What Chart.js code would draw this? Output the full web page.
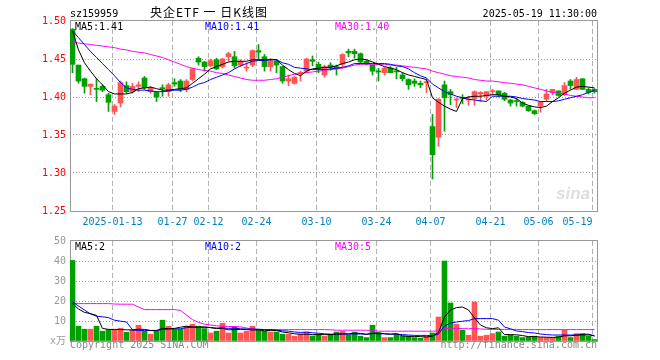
<!DOCTYPE html>
<html><head><meta charset="utf-8">
<script src="https://cdn.jsdelivr.net/npm/chart.js@4"></script>
<style>
html,body{margin:0;padding:0;background:#fff;}
#wrap{position:relative;width:660px;height:360px;overflow:hidden;}
canvas{position:absolute;left:0;top:0;}
</style></head><body>
<div id="wrap"><canvas id="c1" width="660" height="360"></canvas><canvas id="c2" width="660" height="360"></canvas></div>
<script>
const dates = [
'2025-01-02','2025-01-03','2025-01-06','2025-01-07','2025-01-08','2025-01-09','2025-01-10','2025-01-13','2025-01-14','2025-01-15',
'2025-01-16','2025-01-17','2025-01-20','2025-01-21','2025-01-22','2025-01-23','2025-01-24','2025-01-27','2025-02-05','2025-02-06',
'2025-02-07','2025-02-10','2025-02-11','2025-02-12','2025-02-13','2025-02-14','2025-02-17','2025-02-18','2025-02-19','2025-02-20',
'2025-02-21','2025-02-24','2025-02-25','2025-02-26','2025-02-27','2025-02-28','2025-03-03','2025-03-04','2025-03-05','2025-03-06',
'2025-03-07','2025-03-10','2025-03-11','2025-03-12','2025-03-13','2025-03-14','2025-03-17','2025-03-18','2025-03-19','2025-03-20',
'2025-03-21','2025-03-24','2025-03-25','2025-03-26','2025-03-27','2025-03-28','2025-03-31','2025-04-01','2025-04-02','2025-04-03',
'2025-04-07','2025-04-08','2025-04-09','2025-04-10','2025-04-11','2025-04-14','2025-04-15','2025-04-16','2025-04-17','2025-04-18',
'2025-04-21','2025-04-22','2025-04-23','2025-04-24','2025-04-25','2025-04-28','2025-04-29','2025-04-30','2025-05-06','2025-05-07',
'2025-05-08','2025-05-09','2025-05-12','2025-05-13','2025-05-14','2025-05-15','2025-05-16','2025-05-19'];

const open = [1.489,1.442,1.424,1.414,1.411,1.414,1.403,1.381,1.392,1.415,
1.407,1.414,1.425,1.407,1.406,1.412,1.407,1.419,1.421,1.410,
1.423,1.451,1.446,1.441,1.449,1.440,1.453,1.453,1.442,1.438,
1.442,1.461,1.453,1.440,1.447,1.440,1.421,1.418,1.431,1.434,
1.449,1.443,1.429,1.442,1.440,1.443,1.460,1.460,1.457,1.447,
1.442,1.434,1.432,1.438,1.434,1.429,1.423,1.421,1.418,1.419,
1.361,1.347,1.416,1.407,1.396,1.399,1.396,1.398,1.404,1.401,
1.407,1.408,1.405,1.396,1.395,1.393,1.388,1.382,1.388,1.397,
1.406,1.408,1.403,1.421,1.410,1.424,1.410,1.410];
const high = [1.490,1.442,1.425,1.417,1.424,1.416,1.405,1.390,1.421,1.420,
1.418,1.420,1.427,1.414,1.407,1.416,1.418,1.424,1.423,1.423,
1.438,1.453,1.447,1.450,1.451,1.451,1.459,1.460,1.449,1.445,
1.462,1.469,1.456,1.451,1.449,1.440,1.429,1.427,1.434,1.451,
1.454,1.446,1.442,1.445,1.442,1.457,1.463,1.463,1.458,1.449,
1.442,1.438,1.439,1.440,1.439,1.432,1.424,1.424,1.421,1.423,
1.377,1.398,1.421,1.410,1.399,1.403,1.401,1.408,1.407,1.407,
1.410,1.408,1.406,1.397,1.398,1.394,1.388,1.383,1.394,1.410,
1.410,1.408,1.419,1.423,1.426,1.424,1.412,1.411];
const low = [1.432,1.418,1.405,1.403,1.394,1.407,1.381,1.377,1.387,1.405,
1.405,1.407,1.410,1.405,1.394,1.401,1.401,1.414,1.407,1.407,
1.421,1.442,1.434,1.440,1.436,1.438,1.447,1.438,1.440,1.434,
1.440,1.449,1.434,1.434,1.432,1.418,1.415,1.417,1.421,1.432,
1.441,1.432,1.426,1.435,1.429,1.440,1.453,1.451,1.444,1.442,
1.429,1.421,1.429,1.432,1.424,1.421,1.410,1.414,1.412,1.406,
1.292,1.335,1.355,1.390,1.386,1.391,1.389,1.389,1.394,1.396,
1.403,1.400,1.395,1.388,1.388,1.387,1.381,1.377,1.380,1.394,
1.403,1.401,1.402,1.410,1.410,1.410,1.404,1.405];
const close = [1.443,1.421,1.414,1.417,1.410,1.409,1.393,1.388,1.419,1.407,
1.414,1.416,1.412,1.412,1.400,1.411,1.416,1.417,1.410,1.421,
1.437,1.446,1.440,1.448,1.437,1.450,1.457,1.441,1.447,1.439,
1.461,1.459,1.440,1.447,1.442,1.421,1.424,1.426,1.432,1.450,
1.447,1.437,1.440,1.439,1.437,1.456,1.458,1.457,1.446,1.445,
1.434,1.433,1.438,1.432,1.433,1.424,1.416,1.418,1.416,1.419,
1.324,1.397,1.399,1.403,1.397,1.398,1.397,1.407,1.406,1.407,
1.408,1.403,1.397,1.392,1.394,1.388,1.382,1.378,1.393,1.404,
1.410,1.402,1.415,1.415,1.423,1.410,1.406,1.407];
const ma5 = [1.487,1.462,1.445,1.434,1.424,1.416,1.407,1.404,1.404,1.404,
1.406,1.411,1.412,1.413,1.411,1.409,1.409,1.410,1.411,1.412,
1.418,1.424,1.430,1.437,1.440,1.443,1.446,1.447,1.447,1.447,
1.449,1.449,1.449,1.449,1.449,1.442,1.436,1.431,1.428,1.434,
1.437,1.438,1.439,1.439,1.441,1.444,1.446,1.449,1.450,1.449,
1.446,1.443,1.440,1.438,1.436,1.432,1.429,1.427,1.425,1.423,
1.399,1.393,1.388,1.384,1.381,1.398,1.400,1.401,1.401,1.402,
1.403,1.403,1.401,1.400,1.398,1.392,1.389,1.387,1.386,1.388,
1.394,1.399,1.405,1.409,1.413,1.414,1.413,1.412];
const ma10 = [1.487,1.478,1.469,1.460,1.452,1.444,1.436,1.428,1.419,1.412,
1.410,1.409,1.409,1.408,1.407,1.407,1.408,1.409,1.409,1.410,
1.413,1.417,1.419,1.423,1.426,1.429,1.432,1.437,1.441,1.444,
1.447,1.448,1.448,1.449,1.449,1.445,1.443,1.439,1.438,1.437,
1.436,1.436,1.436,1.437,1.438,1.439,1.441,1.444,1.444,1.444,
1.444,1.444,1.444,1.443,1.441,1.440,1.437,1.432,1.428,1.425,
1.417,1.412,1.407,1.404,1.401,1.399,1.397,1.396,1.395,1.394,
1.401,1.401,1.401,1.401,1.400,1.398,1.397,1.396,1.394,1.394,
1.394,1.395,1.397,1.399,1.401,1.403,1.406,1.409];
const ma30 = [1.472,1.471,1.470,1.469,1.468,1.467,1.466,1.465,1.463,1.462,
1.460,1.459,1.458,1.456,1.454,1.452,1.449,1.446,1.443,1.440,
1.438,1.436,1.435,1.434,1.432,1.431,1.429,1.427,1.425,1.423,
1.422,1.422,1.422,1.423,1.424,1.426,1.428,1.430,1.431,1.432,
1.433,1.434,1.435,1.436,1.437,1.438,1.440,1.442,1.443,1.443,
1.443,1.443,1.443,1.442,1.442,1.441,1.440,1.439,1.438,1.437,
1.434,1.432,1.430,1.428,1.427,1.426,1.425,1.423,1.422,1.421,
1.421,1.420,1.419,1.418,1.417,1.416,1.414,1.412,1.410,1.408,
1.406,1.405,1.404,1.402,1.401,1.400,1.399,1.399];
const vol = [40.3,7.4,5.9,5.9,7.4,4.9,5.7,5.7,6.4,4.4,
5.7,7.9,4.9,3.4,4.9,10.4,7.4,5.9,5.9,7.4,
8.4,7.4,6.2,4.0,4.9,8.9,4.0,7.0,4.0,4.9,
7.4,5.4,4.9,4.5,4.5,3.4,3.4,2.4,3.4,4.5,
2.5,3.4,2.4,3.4,4.5,4.9,2.9,4.5,2.4,1.7,
7.9,4.0,1.7,1.7,3.4,2.4,2.4,1.7,1.4,2.4,
4.0,12.0,40.0,19.0,8.4,5.4,2.9,19.5,2.4,2.9,
3.7,4.5,2.4,2.9,2.4,1.7,2.0,2.4,1.7,1.7,
1.7,2.4,5.4,1.7,3.7,3.7,2.4,0.7];
const vma5 = [18.7,16.0,14.3,13.7,12.8,6.3,5.8,5.8,5.7,5.6,
5.5,5.9,5.8,5.3,5.3,6.3,6.2,6.3,6.9,7.4,
7.0,7.0,7.1,6.7,6.2,6.3,5.6,5.7,5.8,5.7,
5.5,5.6,5.1,5.3,5.3,4.5,4.1,3.6,3.4,3.4,
3.2,3.2,3.2,3.2,3.4,3.6,3.6,3.9,3.8,3.3,
3.9,4.1,3.6,3.4,3.7,2.6,2.3,2.3,2.2,2.0,
2.4,4.3,12.0,15.5,16.7,17.0,15.5,11.5,8.0,6.6,
6.2,6.6,3.2,3.2,3.1,2.7,2.2,2.2,2.0,1.9,
1.8,1.9,2.6,2.6,2.9,3.3,3.4,2.4];
const vma10 = [19.5,17.5,15.5,13.5,12.4,12.1,11.7,10.4,9.9,9.5,
5.6,5.2,5.3,5.2,5.1,5.8,5.9,6.1,6.1,6.7,
6.9,6.8,6.7,6.7,6.5,6.6,6.3,6.4,6.1,6.0,
6.0,5.9,5.7,5.7,5.4,5.1,4.9,4.5,4.3,4.4,
4.1,3.9,3.6,3.4,3.4,3.4,3.4,3.5,3.5,3.4,
3.7,3.6,3.6,3.4,3.4,3.2,3.0,2.8,2.8,2.8,
2.6,3.4,7.5,9.0,9.5,9.9,10.2,11.2,11.2,11.2,
11.2,10.4,7.0,6.1,5.0,4.7,4.2,4.0,3.5,3.2,
3.0,3.0,3.0,3.0,3.0,3.0,3.0,2.8];
const vma30 = [19.0,18.7,18.7,18.7,18.7,18.7,18.7,18.5,18.4,18.4,
18.4,17.0,15.7,15.7,15.7,15.7,15.7,15.7,15.3,13.0,
10.7,9.3,8.4,8.0,7.6,7.35,7.3,7.2,7.1,6.5,
5.9,5.7,5.7,5.7,5.7,5.7,5.7,5.7,5.7,5.7,
5.7,5.7,5.7,5.6,5.4,5.4,5.4,5.4,5.4,5.4,
5.3,4.9,4.9,4.9,4.9,4.9,4.9,4.9,4.9,4.9,
4.9,5.1,6.2,6.3,6.3,6.2,6.1,6.3,6.0,5.9,
5.8,5.8,5.8,5.8,5.8,5.7,5.7,5.7,5.7,5.7,
5.7,5.7,5.7,5.7,5.7,5.7,5.7,5.7];

const tickDates = ['2025-01-13','2025-01-27','2025-02-12','2025-02-24','2025-03-10','2025-03-24','2025-04-07','2025-04-21','2025-05-06','2025-05-19'];
const tickText  = ['2025-01-13','01-27','02-12','02-24','03-10','03-24','04-07','04-21','05-06','05-19     '];
const priceTicks = [1.25,1.30,1.35,1.40,1.45,1.50];
const volTicks = [0,10,20,30,40,50];

const titleCode = 'sz159959';
const titleText = '央企ETF 一 日K线图';
const timeText = '2025-05-19 11:30:00';
const priceLegend = [['MA5:1.41','#000000'],['MA10:1.41','#0000ff'],['MA30:1.40','#ff00ff']];
const volLegend = [['MA5:2','#000000'],['MA10:2','#0000ff'],['MA30:5','#ff00ff']];

const RED = '#ff5555', GREEN = '#00a000';
const N = dates.length;
const cols = open.map((o,i)=> close[i] >= o ? RED : GREEN);
const tickIdx = tickDates.map(d => dates.indexOf(d));
const MONO = "'DejaVu Sans Mono','Noto Sans CJK SC',monospace";

function xScale(showLabels, h){
  return {
    type:'linear', min:-0.4167, max:N-0.4167, offset:false,
    afterBuildTicks: s => { s.ticks = tickIdx.map(i => ({value: i - 1/3})); },
    ticks:{display:showLabels, autoSkip:false, maxRotation:0, minRotation:0, padding:5,
      color:'#0080c0', font:{family:MONO, size:10}, callback:(v,i)=>tickText[i]},
    grid:{color:'#b0b0b0', lineWidth:1, drawTicks:false, offset:false},
    border:{display:false, dash:[5,3]},
    afterFit: s => { s.height = h; }
  };
}
function yScale(mn, mx, tks, col, fmt){
  return {
    type:'linear', min:mn, max:mx,
    afterBuildTicks: s => { s.ticks = tks.map(v => ({value:v})); },
    ticks:{color:col, padding:4, font:{family:MONO, size:10}, callback:fmt},
    grid:{drawTicks:false, lineWidth:1,
      color: c => (c.tick && (Math.abs(c.tick.value-mn)<1e-9 || Math.abs(c.tick.value-mx)<1e-9)) ? 'rgba(0,0,0,0)' : '#a0a0a0'},
    border:{display:false, dash:[1,2]},
    afterFit: s => { s.width = 70; }
  };
}
const frame = {id:'frame', beforeDatasetsDraw(chart){
  const {ctx, chartArea:a} = chart;
  ctx.save(); ctx.strokeStyle = '#999999'; ctx.lineWidth = 1;
  ctx.strokeRect(a.left+0.5, a.top-0.5, a.right-a.left-1, a.bottom-a.top+1);
  ctx.restore();
}};
function lineDs(d, color){
  return {type:'line', data:d.map((v,i)=>({x:i,y:v})), borderColor:color, borderWidth:1,
    pointRadius:0, tension:0, fill:false, order:0};
}
const texts1 = {id:'texts1', afterDraw(chart){
  const ctx = chart.ctx; ctx.save();
  ctx.textBaseline = 'alphabetic';
  ctx.font = '10px ' + MONO; ctx.fillStyle = '#000'; ctx.textAlign = 'left';
  ctx.fillText(titleCode, 70, 17);
  ctx.textAlign = 'right'; ctx.fillText(timeText, 597, 17);
  ctx.textAlign = 'left';
  ctx.font = "12px 'Noto Sans CJK SC'"; ctx.letterSpacing = '1px';
  ctx.fillText(titleText, 150, 17);
  ctx.letterSpacing = '0px';
  ctx.font = '10px ' + MONO;
  const xs = [75, 205, 335];
  priceLegend.forEach((p,i)=>{ ctx.fillStyle = p[1]; ctx.fillText(p[0], xs[i], 30); });
  ctx.font = "italic bold 17px 'Liberation Sans'"; ctx.fillStyle = '#dddddd';
  ctx.fillText('sina', 556, 199);
  ctx.restore();
}};
const texts2 = {id:'texts2', afterDraw(chart){
  const ctx = chart.ctx; ctx.save();
  ctx.textBaseline = 'alphabetic'; ctx.font = '10px ' + MONO; ctx.textAlign = 'left';
  const xs = [75, 205, 335];
  volLegend.forEach((p,i)=>{ ctx.fillStyle = p[1]; ctx.fillText(p[0], xs[i], 250); });
  ctx.fillStyle = '#888888';
  ctx.fillText('Copyright 2025 SINA.COM', 70, 348);
  ctx.textAlign = 'right';
  ctx.fillText('http://finance.sina.com.cn', 597, 348);
  ctx.restore();
}};

const common = {responsive:false, animation:false, devicePixelRatio:1, events:[],
  plugins:{legend:{display:false}, tooltip:{enabled:false}, title:{display:false}}};

new Chart(document.getElementById('c1'), {
  type:'bar',
  data:{datasets:[
    lineDs(ma5,'#000000'), lineDs(ma10,'#0000ff'), lineDs(ma30,'#ff00ff'),
    {type:'bar', data:open.map((o,i)=>({x:i, y:[o, close[i]]})), backgroundColor:cols,
      barThickness:5, minBarLength:1, grouped:false, borderWidth:0, order:1},
    {type:'bar', data:low.map((l,i)=>({x:i, y:[l, high[i]]})), backgroundColor:cols,
      barThickness:1, grouped:false, borderWidth:0, order:2}
  ]},
  options:Object.assign({}, common, {
    layout:{padding:{top:21, right:62, bottom:128, left:0}},
    scales:{
      x: xScale(true, 21),
      y: yScale(1.25, 1.50, priceTicks, '#ff0000', v => v.toFixed(2))
    }
  }),
  plugins:[frame, texts1]
});

new Chart(document.getElementById('c2'), {
  type:'bar',
  data:{datasets:[
    lineDs(vma5,'#000000'), lineDs(vma10,'#0000ff'), lineDs(vma30,'#ff00ff'),
    {type:'bar', data:vol.map((v,i)=>({x:i, y:v})), backgroundColor:cols,
      barThickness:5, grouped:false, borderWidth:0, order:1}
  ]},
  options:Object.assign({}, common, {
    layout:{padding:{top:241, right:62, bottom:0, left:0}},
    scales:{
      x: xScale(false, 19),
      y: yScale(0, 50, volTicks, '#999999', v => v === 0 ? 'x万' : String(v))
    }
  }),
  plugins:[frame, texts2]
});
</script>
</body></html>
